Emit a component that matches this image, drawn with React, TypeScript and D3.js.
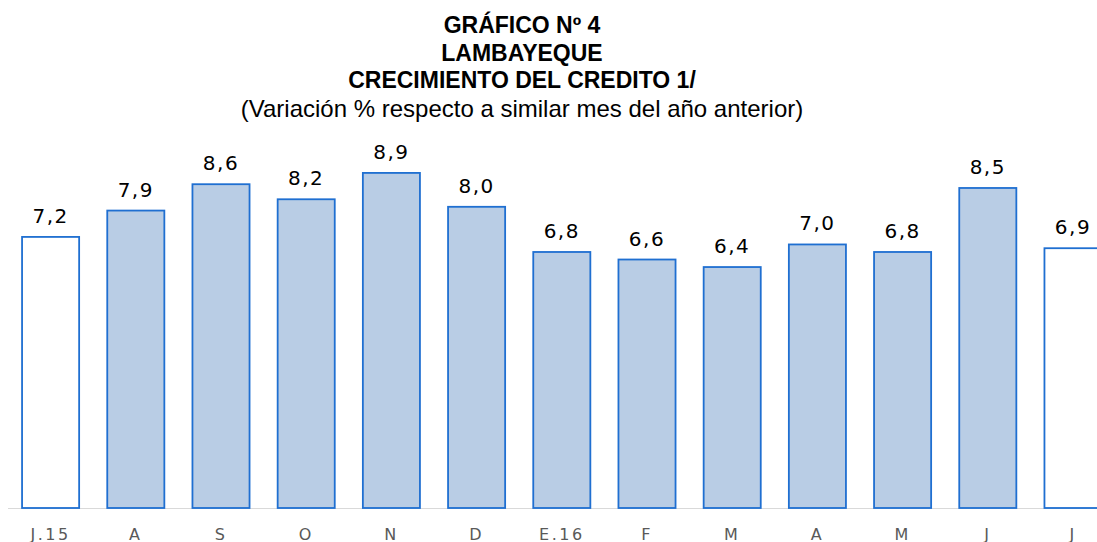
import * as React from 'react';
import * as d3 from 'd3';

// Chart data
const months = ['J.15', 'A', 'S', 'O', 'N', 'D', 'E.16', 'F', 'M', 'A', 'M', 'J', 'J'];
const growth = [7.2, 7.9, 8.6, 8.2, 8.9, 8.0, 6.8, 6.6, 6.4, 7.0, 6.8, 8.5, 6.9];
// bars drawn hollow (start and end of the period)
const hollow = [true, false, false, false, false, false, false, false, false, false, false, false, true];
const titleLines = ['GRÁFICO Nº 4', 'LAMBAYEQUE', 'CRECIMIENTO DEL CREDITO 1/'];
const subtitle = '(Variación % respecto a similar mes del año anterior)';

const width = 1097;
const height = 542;
const baseline = 508;

const App = () => {
    const x = d3.scaleBand<number>()
        .domain(d3.range(months.length))
        .range([8, 8 + months.length * 85.2])
        .paddingInner(0.33)
        .paddingOuter(0.165);

    const y = d3.scaleLinear()
        .domain([0, 10])
        .range([baseline, baseline - 376.5]);

    const fmt = (v: number) => d3.format('.1f')(v).replace('.', ',');

    return (
        <div style={{ position: 'fixed', left: 0, top: 0 }}>
            <svg width={width} height={height} style={{ display: 'block', background: '#fff' }}>
                {/* titles */}
                <g fontFamily="'Liberation Sans', Arial, sans-serif" textAnchor="middle" fill="#000">
                    {titleLines.map((t, i) => (
                        <text key={i} x={522} y={33 + i * 27.5} fontSize={23} fontWeight="bold">{t}</text>
                    ))}
                    <text x={522} y={117} fontSize={24}>{subtitle}</text>
                </g>

                {/* axis line */}
                <line x1={8} x2={width} y1={baseline + 0.5} y2={baseline + 0.5} stroke="#d9d9d9" strokeWidth={1} />

                {/* bars */}
                {growth.map((v, i) => (
                    <rect key={i}
                        x={x(i)}
                        y={y(v)}
                        width={x.bandwidth()}
                        height={baseline - y(v)}
                        fill={hollow[i] ? '#ffffff' : '#b9cde5'}
                        stroke="#1f6fd1"
                        strokeWidth={1.8} />
                ))}

                {/* value labels */}
                <g fontFamily="'DejaVu Sans', sans-serif" fontSize={20} textAnchor="middle" fill="#000" letterSpacing={1.5}>
                    {growth.map((v, i) => (
                        <text key={i} x={(x(i) as number) + x.bandwidth() / 2} y={y(v) - 14}>{fmt(v)}</text>
                    ))}
                </g>

                {/* category labels */}
                <g fontFamily="'DejaVu Sans', sans-serif" fontSize={16} textAnchor="middle" fill="#595959" letterSpacing={2.5}>
                    {months.map((m, i) => (
                        <text key={i} x={(x(i) as number) + x.bandwidth() / 2} y={540}>{m}</text>
                    ))}
                </g>
            </svg>
        </div>
    );
};

export default App;
